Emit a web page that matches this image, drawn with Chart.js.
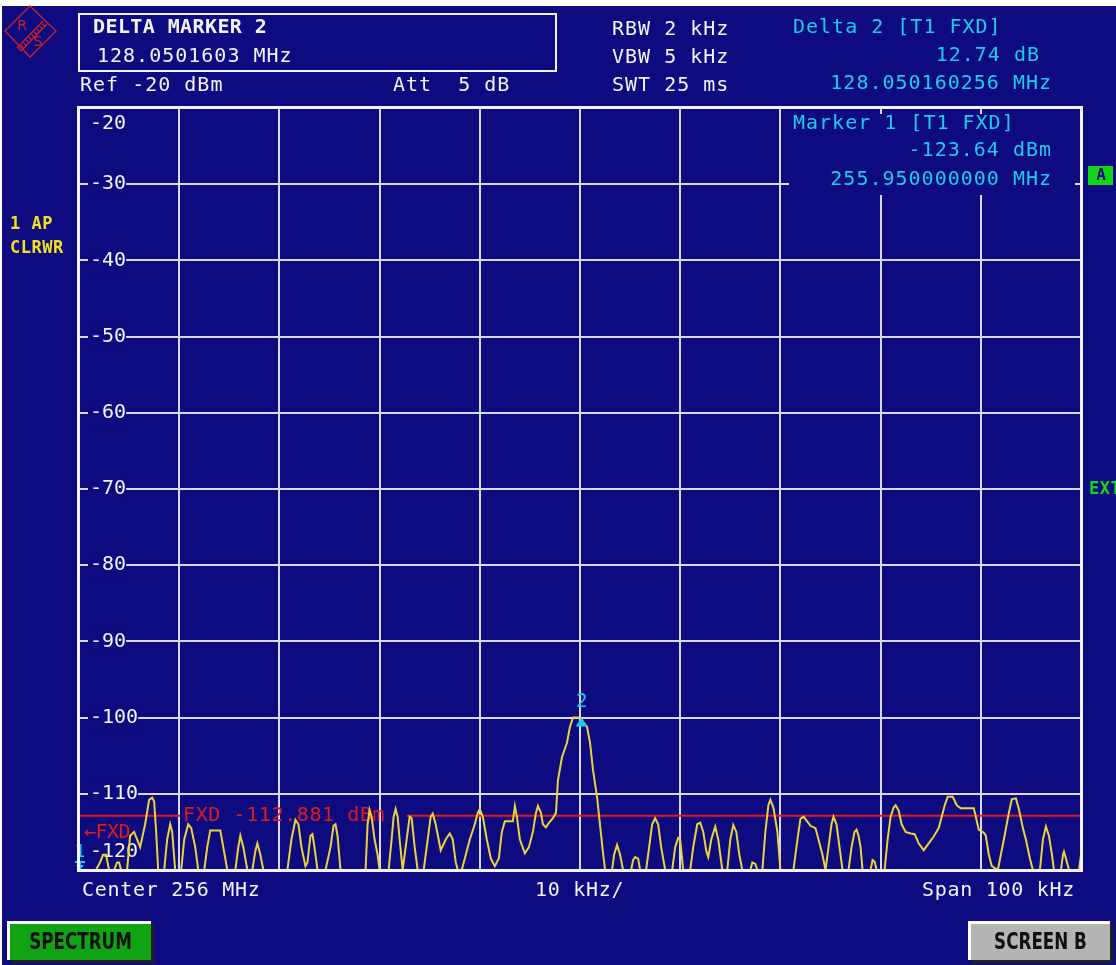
<!DOCTYPE html>
<html>
<head>
<meta charset="utf-8">
<script src="https://cdn.jsdelivr.net/npm/chart.js@4/dist/chart.umd.min.js"></script>
<style>
  html, body { margin: 0; padding: 0; background: #0e0b80; }
  #wrap { width: 1116px; height: 965px; }
</style>
</head>
<body>
<div id="wrap"><canvas id="scr" width="1116" height="965"></canvas></div>
<script>
// trace 1, frequency offset from centre (kHz) and level (dBm)
var freqKHz = [
  -50.0, -48.3, -47.9, -47.6, -47.3, -47.0, -46.5, -46.2, -46.0, -45.8,
  -45.2, -44.9, -44.5, -43.9, -43.4, -43.0, -42.7, -42.5, -42.3, -42.1,
  -41.5, -41.2, -40.9, -40.7, -40.4, -39.8, -39.5, -39.1, -38.8, -38.4,
  -38.1, -37.5, -37.2, -36.9, -35.9, -35.6, -35.2, -34.4, -34.1, -33.9,
  -33.6, -33.2, -32.7, -32.4, -32.2, -31.9, -31.6, -29.2, -28.8, -28.4,
  -28.1, -27.8, -27.4, -27.2, -26.9, -26.7, -26.5, -26.2, -25.4, -24.9,
  -24.6, -24.4, -24.2, -23.9, -21.4, -21.2, -21.0, -20.8, -20.5, -20.2,
  -20.0, -19.1, -18.8, -18.6, -18.4, -18.2, -18.0, -17.7, -17.4, -17.0,
  -16.8, -16.5, -16.2, -15.6, -15.2, -14.9, -14.7, -14.4, -13.9, -13.4,
  -13.0, -12.7, -12.4, -12.2, -11.8, -11.4, -11.0, -10.5, -10.2, -10.0,
  -9.7, -9.3, -8.9, -8.5, -8.1, -7.8, -7.5, -6.7, -6.5, -6.3,
  -6.0, -5.5, -5.1, -4.7, -4.4, -4.2, -3.9, -3.7, -3.4, -3.1,
  -2.7, -2.4, -2.2, -1.8, -1.3, -1.0, -0.7, 0.0, 0.4, 0.7,
  1.0, 1.3, 1.7, 2.0, 2.3, 2.5, 3.2, 3.4, 3.7, 4.0,
  4.3, 5.1, 5.3, 5.5, 5.8, 6.0, 6.6, 6.9, 7.2, 7.5,
  7.8, 8.1, 8.5, 9.2, 9.5, 9.8, 10.0, 10.3, 11.0, 11.3,
  11.7, 12.0, 12.3, 12.6, 12.8, 13.1, 13.5, 13.8, 14.2, 14.7,
  15.0, 15.3, 15.6, 15.9, 16.2, 17.0, 17.2, 17.5, 17.7, 18.2,
  18.5, 18.8, 19.0, 19.3, 19.7, 20.0, 21.3, 21.7, 22.0, 22.3,
  22.6, 23.0, 23.5, 23.9, 24.2, 24.5, 24.8, 25.1, 25.3, 25.6,
  25.9, 26.2, 26.8, 27.1, 27.4, 27.6, 27.8, 28.0, 28.2, 29.0,
  29.2, 29.4, 29.6, 30.4, 30.7, 31.0, 31.3, 31.5, 31.8, 32.1,
  32.5, 33.0, 33.4, 33.8, 34.3, 34.8, 35.3, 35.8, 36.1, 36.4,
  36.7, 37.2, 37.6, 38.0, 39.3, 39.5, 39.8, 40.3, 40.5, 40.8,
  41.1, 41.7, 42.3, 42.8, 43.1, 43.5, 43.8, 44.2, 44.5, 44.9,
  45.2, 45.9, 46.2, 46.5, 46.8, 47.1, 47.3, 48.0, 48.2, 48.3,
  48.5, 48.8, 49.8, 50.0
];
var levelDbm = [
  -120, -120, -119, -118, -118, -120, -120, -119, -119, -120,
  -120, -115.5, -115, -117, -114, -110.8, -110.5, -111, -115, -120,
  -120, -116, -114, -115, -120, -120, -116, -114, -114.5, -117,
  -120, -120, -117, -114.8, -114.8, -117, -120, -120, -117, -115.5,
  -117, -120, -120, -117.5, -116.5, -118, -120, -120, -116, -113.4,
  -114, -117, -119.5, -119, -115.5, -115.3, -117, -120, -120, -117,
  -114.2, -114, -115.5, -120, -120, -114, -112.1, -113, -116, -118,
  -120, -120, -116, -113, -112, -113, -116, -120, -117, -113,
  -113.2, -117, -120, -120, -116, -113, -112.6, -114, -117.4, -116,
  -115.2, -116, -119, -120, -120, -118, -116, -114, -112.5, -112,
  -113, -116, -118.5, -119.5, -118.5, -115, -113.6, -113.6, -111.6, -113,
  -116, -117.8, -117, -115, -112.5, -111.6, -112.5, -114, -114.4, -113.8,
  -113.2, -112.5, -108.2, -105.2, -103.3, -101.2, -100.0, -100.0, -100.8, -101.2,
  -103.3, -106.9, -110.4, -114.1, -117.8, -120, -120, -118, -116.7, -118,
  -120, -120, -118.7, -118.3, -118.5, -120, -120, -117, -114, -113.2,
  -114, -117, -120, -120, -117, -115.8, -116, -120, -120, -117,
  -114, -113.8, -115, -117.5, -118.3, -116, -114.3, -116, -120, -120,
  -116, -114.1, -115, -118, -120, -120, -119, -119.2, -120, -120,
  -115, -111.5, -110.8, -111.8, -115, -120, -120, -116, -113.3, -113,
  -113.5, -114.2, -114.5, -116.5, -118, -120, -117, -114, -113, -114,
  -117, -120, -120, -117, -115, -114.7, -115.5, -117, -120, -120,
  -118.7, -118.9, -120, -120, -116, -113, -111.8, -111.5, -112.2, -114,
  -115, -115.2, -115.3, -116.5, -117.4, -116.5, -115.6, -114.5, -113, -111.5,
  -110.4, -110.4, -111.5, -111.9, -111.9, -113, -114.7, -115.1, -115.5, -118,
  -119.5, -120, -116, -112.5, -110.7, -110.6, -112, -114.5, -116, -118.5,
  -120, -120, -116, -114.3, -115.5, -118, -120, -120, -118, -117.6,
  -118.5, -120, -120, -118
];

var refLevel = -20;
var bottomLevel = -120;
var dbPerDiv = 10;
var spanKHz = 100;
var kHzPerDiv = 10;
var fxdLevel = -112.881;

// markers: number, frequency offset (kHz), level (dBm)
var markerNum = [1, 2];
var markerFreq = [-50.0, 0.16];
var markerLevel = [-123.64, -100.0];

var headerLeft = ['DELTA MARKER 2', '128.0501603 MHz'];
var headerSettings = ['RBW 2 kHz', 'VBW 5 kHz', 'SWT 25 ms'];
var deltaInfo = ['Delta 2 [T1 FXD]', '12.74 dB', '128.050160256 MHz'];
var marker1Info = ['Marker 1 [T1 FXD]', '-123.64 dBm', '255.950000000 MHz'];

var NAVY = '#0e0b80';
var WHITE = '#f2f2f8';
var GRID = '#d9d9ea';
var CYAN = '#1ccbec';
var YELLOW = '#e9d43a';
var RED = '#e01a1a';
var MONO = '"DejaVu Sans Mono", "Liberation Mono", monospace';
var FS = 20;
var LS = 1.0;

function txt(ctx, s, x, y, color, size, opts) {
  opts = opts || {};
  ctx.save();
  ctx.font = (opts.bold ? 'bold ' : '') + size + 'px ' + (opts.family || MONO);
  ctx.letterSpacing = (opts.ls === undefined ? LS : opts.ls) + 'px';
  ctx.fillStyle = color;
  ctx.textAlign = opts.align || 'left';
  ctx.textBaseline = 'middle';
  if (opts.bg) {
    var w = ctx.measureText(s).width;
    var bx = opts.align === 'right' ? x - w : x;
    ctx.fillStyle = opts.bg;
    ctx.fillRect(bx - 2, y - size * 0.6, w + 2, size * 1.2);
    ctx.fillStyle = color;
  }
  ctx.fillText(s, x, y);
  ctx.restore();
}

function button(ctx, x, y, w, h, fill, label) {
  ctx.save();
  ctx.fillStyle = fill;
  ctx.fillRect(x, y, w, h);
  ctx.fillStyle = '#ffffff';
  ctx.fillRect(x - 3, y - 3, w + 3, 3);
  ctx.fillRect(x - 3, y - 3, 3, h + 3);
  ctx.fillStyle = '#202020';
  ctx.fillRect(x, y + h, w + 3, 3);
  ctx.fillRect(x + w, y, 3, h + 3);
  ctx.font = 'bold 19px "DejaVu Sans Condensed", "DejaVu Sans", sans-serif';
  ctx.fillStyle = '#101010';
  ctx.textAlign = 'center';
  ctx.textBaseline = 'middle';
  ctx.save();
  ctx.translate(x + w / 2, y + h / 2 + 1);
  ctx.scale(0.98, 1.2);
  ctx.fillText(label, 0, 0);
  ctx.restore();
  ctx.restore();
}

var screenPlugin = {
  id: 'screen',
  beforeDraw: function(chart) {
    var ctx = chart.ctx;
    ctx.save();
    ctx.fillStyle = NAVY;
    ctx.fillRect(0, 0, chart.width, chart.height);
    ctx.fillStyle = '#ffffff';
    ctx.fillRect(0, 0, chart.width, 6);
    ctx.fillRect(0, 0, 2, chart.height);
    ctx.restore();
  },
  beforeDatasetsDraw: function(chart) {
    var ctx = chart.ctx;
    var a = chart.chartArea;
    var xs = chart.scales.x, ys = chart.scales.y;

    // marker 1 readout box clears the graticule
    ctx.fillStyle = NAVY;
    ctx.fillRect(789, a.top + 6, 1075 - 789, 195 - a.top - 6);
    txt(ctx, marker1Info[0], 793, 124, CYAN, FS);
    txt(ctx, marker1Info[1], 1052, 151, CYAN, FS, { align: 'right' });
    txt(ctx, marker1Info[2], 1052, 180, CYAN, FS, { align: 'right' });

    // level labels on the graticule
    ys.ticks.forEach(function(t) {
      var y = ys.getPixelForValue(t.value);
      if (t.value === refLevel) y += 16;
      if (t.value === bottomLevel) y -= 18;
      txt(ctx, String(t.value), 90, y, WHITE, FS, { ls: 0, bg: NAVY });
    });

    // fixed reference line
    var fy = ys.getPixelForValue(fxdLevel);
    ctx.save();
    ctx.strokeStyle = RED;
    ctx.lineWidth = 2;
    ctx.beginPath();
    ctx.moveTo(a.left, fy);
    ctx.lineTo(xs.getPixelForValue(-39.9), fy);
    ctx.moveTo(xs.getPixelForValue(-17.3), fy);
    ctx.lineTo(a.right, fy);
    ctx.stroke();
    ctx.restore();
    txt(ctx, 'FXD ' + fxdLevel.toFixed(3) + ' dBm', 183, fy, RED, FS, { ls: 0.6 });
    txt(ctx, '\u2190FXD', 84, fy + 17, RED, FS, { ls: -0.5 });
  },
  afterDatasetsDraw: function(chart) {
    var ctx = chart.ctx;
    var a = chart.chartArea;
    var xs = chart.scales.x, ys = chart.scales.y;
    markerNum.forEach(function(n, i) {
      var x = xs.getPixelForValue(markerFreq[i]);
      var lv = markerLevel[i];
      ctx.save();
      ctx.fillStyle = CYAN;
      ctx.strokeStyle = CYAN;
      if (lv < bottomLevel) {
        // marker below screen: arrow at bottom edge
        x = Math.max(x, a.left + 1);
        txt(ctx, String(n), x, a.bottom - 18, CYAN, 18, { ls: 0, align: 'center' });
        ctx.lineWidth = 2;
        ctx.beginPath();
        ctx.moveTo(x - 5, a.bottom - 8);
        ctx.lineTo(x + 5, a.bottom - 8);
        ctx.moveTo(x, a.bottom - 8);
        ctx.lineTo(x, a.bottom);
        ctx.stroke();
        ctx.beginPath();
        ctx.moveTo(x - 4, a.bottom - 5);
        ctx.lineTo(x + 4, a.bottom - 5);
        ctx.lineTo(x, a.bottom);
        ctx.closePath();
        ctx.fill();
      } else {
        var y = ys.getPixelForValue(lv);
        ctx.beginPath();
        ctx.moveTo(x, y);
        ctx.lineTo(x - 6, y + 9);
        ctx.lineTo(x + 6, y + 9);
        ctx.closePath();
        ctx.fill();
        txt(ctx, String(n), x, y - 16, CYAN, 19, { ls: 0, align: 'center' });
      }
      ctx.restore();
    });
  },
  afterDraw: function(chart) {
    var ctx = chart.ctx;
    var a = chart.chartArea;

    // plot frame
    ctx.save();
    ctx.strokeStyle = WHITE;
    ctx.lineWidth = 3;
    ctx.strokeRect(a.left - 0.5, a.top - 0.5, a.right - a.left + 1, a.bottom - a.top + 1);
    ctx.restore();

    // R&S logo
    ctx.save();
    ctx.strokeStyle = '#c8202a';
    ctx.fillStyle = '#c8202a';
    ctx.lineWidth = 1.3;
    ctx.beginPath();
    ctx.moveTo(30, 6); ctx.lineTo(56, 31); ctx.lineTo(30, 57); ctx.lineTo(5, 31); ctx.closePath();
    ctx.stroke();
    ctx.beginPath();
    ctx.moveTo(17, 48); ctx.lineTo(43, 21);
    ctx.moveTo(21, 51); ctx.lineTo(47, 24);
    ctx.stroke();
    for (var k = 0; k < 10; k++) {
      ctx.beginPath();
      ctx.moveTo(18 + k * 2.7, 48 - k * 2.7);
      ctx.lineTo(21 + k * 2.7, 51 - k * 2.7);
      ctx.stroke();
    }
    ctx.font = '14px "DejaVu Sans", sans-serif';
    ctx.textAlign = 'center';
    ctx.textBaseline = 'middle';
    ctx.fillText('R', 22, 26);
    ctx.fillText('S', 38, 42);
    ctx.restore();

    // header box
    ctx.save();
    ctx.strokeStyle = WHITE;
    ctx.lineWidth = 2;
    ctx.strokeRect(79, 14, 477, 57);
    ctx.restore();
    txt(ctx, headerLeft[0], 93, 28, WHITE, FS, { bold: true, ls: 0.4 });
    txt(ctx, headerLeft[1], 97, 57, WHITE, FS);
    txt(ctx, 'Ref ' + refLevel + ' dBm', 80, 86, WHITE, FS);
    txt(ctx, 'Att  5 dB', 393, 86, WHITE, FS);
    headerSettings.forEach(function(s, i) {
      txt(ctx, s, 612, 30 + i * 28, WHITE, FS);
    });
    txt(ctx, deltaInfo[0], 793, 28, CYAN, FS);
    txt(ctx, deltaInfo[1], 1040, 56, CYAN, FS, { align: 'right' });
    txt(ctx, deltaInfo[2], 1052, 84, CYAN, FS, { align: 'right' });

    // trace info at left
    txt(ctx, '1 AP', 10, 225, '#f2e21a', 17, { bold: true, ls: 0.5 });
    txt(ctx, 'CLRWR', 10, 249, '#f2e21a', 17, { bold: true, ls: 0.5 });

    // right side enhancement labels
    ctx.save();
    ctx.fillStyle = '#12d61a';
    ctx.fillRect(1088, 166, 25, 19);
    ctx.restore();
    txt(ctx, 'A', 1101, 176, NAVY, 16, { bold: true, ls: 0, align: 'center' });
    txt(ctx, 'EXT', 1089, 490, '#12d61a', 17, { bold: true, ls: 0.5 });

    // frequency axis annotation
    txt(ctx, 'Center 256 MHz', 82, 891, WHITE, FS, { ls: 0.7 });
    txt(ctx, kHzPerDiv + ' kHz/', 535, 891, WHITE, FS, { ls: 0.7 });
    txt(ctx, 'Span ' + spanKHz + ' kHz', 1075, 891, WHITE, FS, { align: 'right', ls: 0.7 });

    // soft keys
    button(ctx, 10, 924, 141, 36, '#10a414', 'SPECTRUM');
    button(ctx, 971, 924, 139, 36, '#b4b4b4', 'SCREEN B');
  }
};

var tracePoints = freqKHz.map(function(f, i) {
  return { x: f, y: levelDbm[i] };
});

new Chart(document.getElementById('scr'), {
  type: 'line',
  data: {
    datasets: [{
      label: 'Trace 1',
      data: tracePoints,
      borderColor: YELLOW,
      borderWidth: 2,
      pointRadius: 0,
      tension: 0,
      fill: false
    }]
  },
  options: {
    responsive: false,
    animation: false,
    events: [],
    layout: { padding: { left: 79, top: 108, right: 35, bottom: 95 } },
    plugins: {
      legend: { display: false },
      tooltip: { enabled: false },
      title: { display: false }
    },
    scales: {
      x: {
        type: 'linear',
        min: -spanKHz / 2,
        max: spanKHz / 2,
        ticks: { display: false, stepSize: kHzPerDiv },
        grid: { color: GRID, lineWidth: 2, drawTicks: false },
        border: { display: false }
      },
      y: {
        type: 'linear',
        min: bottomLevel,
        max: refLevel,
        ticks: { display: false, stepSize: dbPerDiv },
        grid: { color: GRID, lineWidth: 2, drawTicks: false },
        border: { display: false }
      }
    }
  },
  plugins: [screenPlugin]
});
</script>
</body>
</html>
